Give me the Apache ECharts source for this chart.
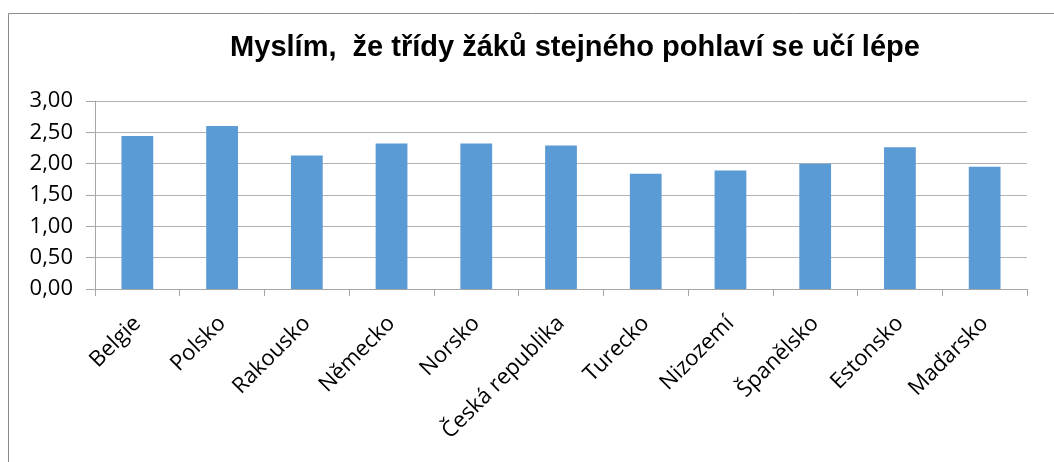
<!DOCTYPE html>
<html><head><meta charset="utf-8">
<script src="https://cdn.jsdelivr.net/npm/echarts@6/dist/echarts.min.js"></script>
<style>html,body{margin:0;padding:0;background:#fff}#c{width:1054px;height:462px}</style>
</head><body><div id="c"></div>
<script>
const categories = ["Belgie","Polsko","Rakousko","Německo","Norsko","Česká republika","Turecko","Nizozemí","Španělsko","Estonsko","Maďarsko"];
const values = [2.44, 2.60, 2.13, 2.32, 2.32, 2.29, 1.84, 1.89, 2.00, 2.26, 1.95];
const titleText = "Myslím,  že třídy žáků stejného pohlaví se učí lépe";

const chart = echarts.init(document.getElementById('c'));
chart.setOption({
  animation: false,
  graphic: [{type:'rect', shape:{x:8.5,y:13.5,width:1100,height:600}, style:{fill:'none', stroke:'#8c8c8c', lineWidth:1}, silent:true}],
  title: {text: titleText, left: 570, textAlign:'center', top: 28,
    textStyle:{fontFamily:'Liberation Sans', fontWeight:'bold', fontSize:29, color:'#000'}},
  grid: {left: 95, right: 27, top: 101, bottom: 173},
  xAxis: {type:'category', data: categories,
    axisLine:{lineStyle:{color:'#a6a6a6'}},
    axisTick:{show:true, length:7, lineStyle:{color:'#a6a6a6'}},
    axisLabel:{rotate:45, fontFamily:'Open Sans', fontSize:22, color:'#000', margin:31, interval:0}},
  yAxis: {type:'value', min:0, max:3, interval:0.5,
    axisLine:{show:true, lineStyle:{color:'#a6a6a6'}},
    axisTick:{show:true, length:9, lineStyle:{color:'#a6a6a6'}},
    splitLine:{lineStyle:{color:'#b3b3b3'}},
    axisLabel:{fontFamily:'Open Sans', fontSize:22, color:'#000', margin:22,
      formatter: v => v.toFixed(2).replace('.', ',')}},
  series: [{type:'bar', data: values, barWidth:'37.5%',
    itemStyle:{color:'#5b9bd5'}}]
});
</script></body></html>
